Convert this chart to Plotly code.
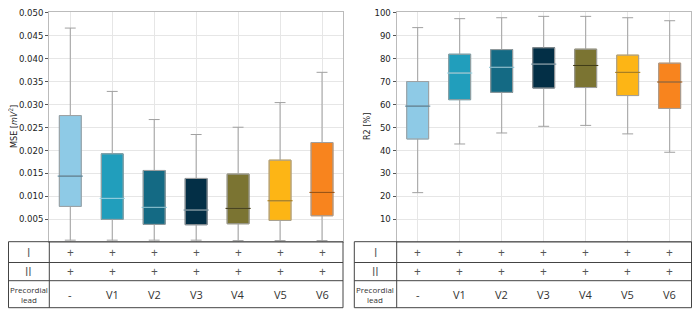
import plotly.graph_objects as go

categories = ["-", "V1", "V2", "V3", "V4", "V5", "V6"]
row_I = ["+", "+", "+", "+", "+", "+", "+"]
row_II = ["+", "+", "+", "+", "+", "+", "+"]
row_labels = ["I", "II", "Precordial<br>lead"]
colors = ["#8ECAE6", "#219EBC", "#146A84", "#032F46", "#7B7432", "#FDB515", "#F8841E"]
outline = ["#6FA9C4", "#1A86A0", "#0F566C", "#02243A", "#615C26", "#D89A10", "#D26E15"]
median_col = ["#4D7C92", "#8CD3E6", "#7FBDD0", "#6A8A9A", "#3F3B14", "#A87A10", "#9A4E08"]

mse_low = [0.0004, 0.0004, 0.0004, 0.0004, 0.0003, 0.0003, 0.0003]
mse_q1 = [0.00776, 0.00493, 0.00384, 0.00377, 0.00398, 0.00471, 0.00572]
mse_med = [0.01435, 0.0095, 0.00754, 0.00696, 0.00732, 0.00898, 0.0108]
mse_q3 = [0.02754, 0.0192, 0.01558, 0.01384, 0.01478, 0.01783, 0.02167]
mse_high = [0.0466, 0.0328, 0.02667, 0.02341, 0.025, 0.03037, 0.03696]

r2_low = [21.5, 42.7, 47.5, 50.4, 50.8, 47.1, 39.1]
r2_q1 = [44.9, 62.0, 65.2, 67.1, 67.3, 63.8, 58.2]
r2_med = [59.2, 73.6, 76.1, 77.5, 76.9, 73.9, 69.7]
r2_q3 = [69.9, 81.8, 83.8, 84.6, 84.0, 81.4, 77.9]
r2_high = [93.4, 97.3, 97.7, 98.3, 98.3, 97.7, 96.4]

xpos = list(range(len(categories)))

fig = go.Figure()

def add_boxes(xa, ya, low, q1, med, q3, high):
    for i in xpos:
        fig.add_trace(go.Box(
            x=[i], q1=[q1[i]], median=[med[i]], q3=[q3[i]],
            lowerfence=[low[i]], upperfence=[high[i]],
            fillcolor=colors[i], line=dict(color="#A0A0A0", width=1),
            width=0.52, whiskerwidth=0.5, boxpoints=False,
            xaxis=xa, yaxis=ya, showlegend=False, hoverinfo="skip"))
    fig.add_trace(go.Bar(
        x=xpos, base=q1, y=[q3[i] - q1[i] for i in xpos], width=0.52,
        marker=dict(color=colors, line=dict(color=outline, width=1)),
        xaxis=xa, yaxis=ya, showlegend=False, hoverinfo="skip"))
    fig.add_trace(go.Scatter(
        x=xpos, y=med, mode="markers",
        marker=dict(symbol="line-ew", size=18, line=dict(color=median_col, width=1)),
        xaxis=xa, yaxis=ya, showlegend=False, hoverinfo="skip"))

add_boxes("x", "y", mse_low, mse_q1, mse_med, mse_q3, mse_high)
add_boxes("x2", "y2", r2_low, r2_q1, r2_med, r2_q3, r2_high)

# page body has an 8px margin: figure is offset by (8, 8) in the window
OFF = 8
W, H = 700 - 2 * OFF, 322 - 2 * OFF
def px(x):
    return (x - OFF) / W
def py(y):
    return (H - (y - OFF)) / H

ydom = [py(242), py(12)]
axis_font = dict(family="DejaVu Sans Condensed, DejaVu Sans", size=9.5, color="#222")
common_x = dict(range=[-0.5, 6.5], tickvals=xpos, showticklabels=False, ticks="",
                showgrid=True, gridcolor="#E6E6E6", gridwidth=1, zeroline=False,
                showline=True, linecolor="#BBBBBB", mirror=True, automargin=False)
common_y = dict(showgrid=True, gridcolor="#E6E6E6", gridwidth=1, zeroline=False,
                showline=True, linecolor="#BBBBBB", mirror=True, automargin=False,
                ticklabeloverflow="allow",
                ticks="outside", ticklen=3, tickcolor="#555", tickfont=axis_font)

fig.update_layout(
    width=W, height=H, margin=dict(l=0, r=0, t=0, b=0, autoexpand=False),
    paper_bgcolor="white", plot_bgcolor="white", barmode="overlay",
    xaxis=dict(domain=[px(49.3), px(343)], **common_x),
    xaxis2=dict(domain=[px(396.7), px(690.7)], anchor="y2", **common_x),
    yaxis=dict(domain=ydom, range=[0, 0.0501], tickvals=[0.005 * k for k in range(1, 11)],
               tickformat=".3f", **common_y),
    yaxis2=dict(domain=ydom, range=[0, 100.2], tickvals=list(range(10, 101, 10)),
                anchor="x2", **common_y),
)

# Y axis titles
tf = dict(family="DejaVu Sans Condensed, DejaVu Sans", size=9, color="#222")
fig.add_annotation(text="MSE [<i>mV</i><sup>2</sup>]", x=px(13), y=py(127), xref="paper", yref="paper",
                   xanchor="center", yanchor="middle", textangle=-90, showarrow=False, font=tf)
fig.add_annotation(text="R2 [%]", x=px(367), y=py(127), xref="paper", yref="paper",
                   xanchor="center", yanchor="middle", textangle=-90, showarrow=False, font=tf)

# Tables
rows_y = [241.7, 262.5, 280.7, 307.7]
tfont = dict(family="Open Sans", size=11, color="#333")
pfont = dict(family="Open Sans", size=12, color="#555")
small = dict(family="Open Sans", size=8, color="#333")
tables = [("x", 8.5, 49.3, 343), ("x2", 354.3, 396.7, 691.5)]
for xr, x0, xd, x1 in tables:
    line = dict(color="#444", width=1)
    fig.add_shape(type="rect", xref="paper", yref="paper", x0=px(x0), x1=px(x1),
                  y0=py(rows_y[3]), y1=py(rows_y[0]), line=line)
    for ry in rows_y[1:3]:
        fig.add_shape(type="line", xref="paper", yref="paper", x0=px(x0), x1=px(x1),
                      y0=py(ry), y1=py(ry), line=line)
    fig.add_shape(type="line", xref="paper", yref="paper", x0=px(xd), x1=px(xd),
                  y0=py(rows_y[3]), y1=py(rows_y[0]), line=line)
    for r, lab in enumerate(row_labels):
        yc = (rows_y[r] + rows_y[r + 1]) / 2
        fig.add_annotation(text=lab, x=px((x0 + xd) / 2), y=py(yc), xref="paper", yref="paper",
                           xanchor="center", yanchor="middle", showarrow=False,
                           font=small if r == 2 else pfont)
    for r, vals in enumerate([row_I, row_II, categories]):
        yc = (rows_y[r] + rows_y[r + 1]) / 2
        for i in xpos:
            fig.add_annotation(text=vals[i], x=i, y=py(yc), xref=xr, yref="paper",
                               xanchor="center", yanchor="middle", showarrow=False,
                               font=pfont if r < 2 else tfont)

fig.write_html("out.html")
